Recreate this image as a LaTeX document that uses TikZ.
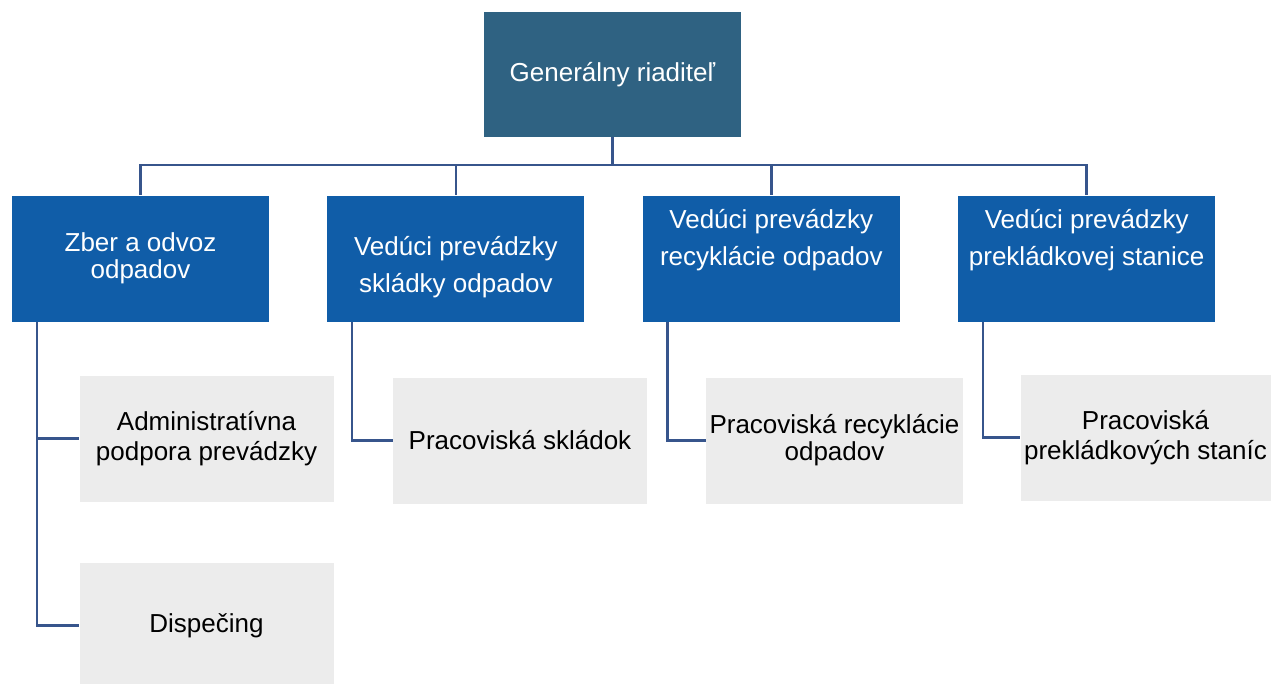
\documentclass[tikz,border=0pt]{standalone}
\usepackage{fontspec}
\setmainfont{Liberation Sans}
\usetikzlibrary{positioning}
\definecolor{topblue}{RGB}{47,98,130}
\definecolor{midblue}{RGB}{16,93,168}
\definecolor{lowgray}{RGB}{236,236,236}
\definecolor{linkblue}{RGB}{55,85,140}

\begin{document}
\begin{tikzpicture}[
  x=1pt, y=-1pt,
  node distance=58pt,
  headbox/.style={fill=topblue, text=white, align=center, minimum width=257pt, minimum height=125pt, font=\fontsize{26}{30}\selectfont},
  unitbox/.style={fill=midblue, text=white, align=center, minimum width=257pt, minimum height=126pt, font=\fontsize{26}{37}\selectfont},
  teambox/.style={fill=lowgray, text=black, align=center, minimum width=254pt, minimum height=126pt, font=\fontsize{26}{30}\selectfont},
  link/.style={draw=linkblue, line width=2.5pt}
]
\useasboundingbox (0,0) rectangle (1274,683);

% Director
\node[headbox] (ceo) at (612.5,74.5) {Generálny riaditeľ};

% Units
\node[unitbox, font=\fontsize{26}{27}\selectfont] (zber) at (140.5,258.5) {Zber a odvoz\\odpadov};
\node[unitbox, right=of zber] (skladka) {\mbox{}\\[-1pt]Vedúci prevádzky\\skládky odpadov};
\node[unitbox, right=of skladka] (recykl) {Vedúci prevádzky\\recyklácie odpadov\\[6pt]\mbox{}};
\node[unitbox, right=of recykl] (preklad) {Vedúci prevádzky\\prekládkovej stanice\\[6pt]\mbox{}};

% Workplaces
\node[teambox] (admin) at (206.5,438.5) {Administratívna\\podpora prevádzky};
\node[teambox] (disp) at (206.5,625.5) {Dispečing};
\node[teambox] (pskl) at (520,440.5) {Pracoviská skládok};
\node[teambox, font=\fontsize{26}{27}\selectfont] (prec) at (834.5,440.5) {Pracoviská recyklácie\\odpadov};
\node[teambox, minimum width=250pt] (ppre) at (1145.5,437.5) {Pracoviská\\prekládkových staníc};

% Lines
\coordinate (bus) at (612.5,165);
\draw[link] (ceo) -- (bus);
\foreach \u in {zber,skladka,recykl,preklad}
  \draw[link] (bus) -| (\u.north);
\draw[link] ([xshift=25pt]zber.south west) |- (admin.west);
\draw[link] ([xshift=25pt]zber.south west) |- (disp.west);
\draw[link] ([xshift=25pt]skladka.south west) |- (pskl.west);
\draw[link] ([xshift=25pt]recykl.south west) |- (prec.west);
\draw[link] ([xshift=25pt]preklad.south west) |- (ppre.west);

\end{tikzpicture}
\end{document}
